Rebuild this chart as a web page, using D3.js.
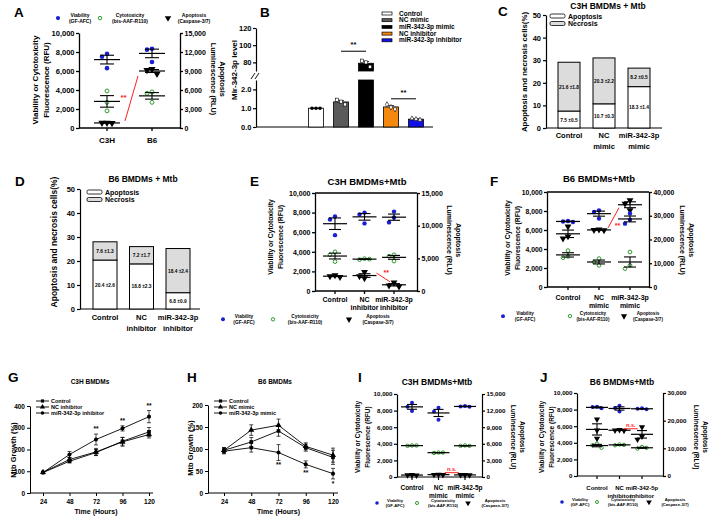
<!DOCTYPE html>
<html><head><meta charset="utf-8">
<script src="https://cdn.jsdelivr.net/npm/d3@7"></script>
<style>body{margin:0;background:#fff}svg{display:block}text{font-family:"Liberation Sans",Arial,sans-serif;font-weight:bold}</style>
</head><body><svg id="c" width="709" height="518"></svg>
<script>
// ================= DATA =================
// Panel A (viability/cytotoxicity in RFU, apoptosis in RLU)
const aCats=[["C3H"],["B6"]];
const aVia=[[7800,7500,6300],[8350,8250,6950]];
const aCyt=[[3900,2700,1800],[3800,3650,2700]];
const aApo=[[820,800,780],[9300,9150,8550]];
// Panel B
const bCats=["Control","NC mimic","miR-342-3p mimic","NC inhibitor","miR-342-3p inhibitor"];
const bPts=[[1,1,1],[1.45,1.35,1.2],[82,80,75],[1.2,1.05,0.95],[0.45,0.42,0.38]];
const bLowTicks=[0,1,2], bHighTicks=[80,100,120];
const bSig=[{a:1,b:2,v:93,t:"**"},{a:3,b:4,v:1.5,t:"**"}];
// Panel C
const cCats=[["Control"],["NC","mimic"],["miR-342-3p","mimic"]];
const cApo=[7.5,10.7,18.3], cApoSE=[0.5,0.3,1.4];
const cNec=[21.6,20.3,8.2], cNecSE=[1.8,2.2,0.5];
// Panel D
const dCats=[["Control"],["NC","inhibitor"],["miR-342-3p","inhibitor"]];
const dApo=[20.4,18.8,6.8], dApoSE=[2.6,2.3,0.9];
const dNec=[7.6,7.2,18.4], dNecSE=[1.3,1.7,2.4];
const pctTicks=[0,10,20,30,40,50];
// Panel E
const eCats=[["Control"],["NC","inhibitor"],["miR-342-3p","inhibitor"]];
const eVia=[[7600,7300,5700],[8000,7800,6900],[8100,7500,7000]];
const eCyt=[[4000,3700,3000],[3300,3200,3250],[3700,3550,3050]];
const eApo=[[2400,2250,2150],[2900,2250,1950],[1300,850,700]];
// Panel F
const fCats=[["Control"],["NC","mimic"],["miR-342-3p","mimic"]];
const fVia=[[6950,6900,6850],[8070,7890,7200],[7730,7090,6670]];
const fCyt=[[3830,3220,3090],[2990,2630,2280],[3680,2280,1940]];
const fApo=[[25500,21300,20400],[24200,24000,23900],[36500,35100,32300]];
// Panel G
const hours=[24,48,72,96,120];
const gCtrl=[94,146,186,238,281], gCtrlE=[4,8,14,18,20];
const gNC=[95,154,189,235,269], gNCE=[4,10,16,20,16];
const gInh=[94,177,246,297,351], gInhE=[4,14,25,12,28];
const gSig=["","","**","**","**"];
// Panel H
const hCtrl=[97,116,141,103,81], hCtrlE=[6,10,12,8,16];
const hNC=[97,143,154,106,86], hNCE=[6,12,14,8,16];
const hMim=[95,103,92,65,44], hMimE=[6,10,18,8,12];
const hSig=["","","**","**","*"];
// Panel I
const iCats=[["Control"],["NC","mimic"],["miR-342-5p","mimic"]];
const iVia=[[8950,8450,7950],[8350,7900,6900],[8550,8500,8450]];
const iCyt=[[3800,3750,3800],[2950,2900,2950],[3800,3750,3750]];
const iApo=[[400,350,300],[450,420,400],[400,380,350]];
// Panel J
const jCats=[["Control"],["NC","inhibitor"],["miR-342-5p","inhibitor"]];
const jVia=[[8350,8300,8150],[8460,8180,7770],[8150,8100,8050]];
const jCyt=[[3900,3700,3400],[3800,3700,3750],[3500,3300,3400]];
const jApo=[[20500,16500,13500],[16700,16500,16400],[17700,14300,13200]];

// ================= DRAWING =================
const svg=d3.select("#c");
const FF='"Liberation Sans",Arial,sans-serif';
const BLUE="#1a1fd6", GREEN="#2f9a2f", RED="#ff2020";
function T(g,x,y,s,fs,anchor,rot,fill){
  const t=g.append("text").attr("x",x).attr("y",y).attr("font-size",fs)
    .attr("text-anchor",anchor||"middle").attr("fill",fill||"#000").text(s);
  if(rot) t.attr("transform",`rotate(${rot},${x},${y})`);
  return t;
}
function sty(a,fs,sw){
  a.attr("font-size",fs).attr("font-family",FF).attr("font-weight","bold");
  a.selectAll("path,line").attr("stroke","#000").attr("stroke-width",sw||1.2);
  a.selectAll("text").attr("fill","#000");
}
function L(g,x1,y1,x2,y2,sw,col){
  return g.append("line").attr("x1",x1).attr("y1",y1).attr("x2",x2).attr("y2",y2)
    .attr("stroke",col||"#000").attr("stroke-width",sw||1);
}
function marker(g,k,x,y,s){
  if(k==="via") g.append("circle").attr("cx",x).attr("cy",y).attr("r",s).attr("fill",BLUE);
  else if(k==="cyt") g.append("circle").attr("cx",x).attr("cy",y).attr("r",s*0.85).attr("fill","#fff").attr("stroke",GREEN).attr("stroke-width",1);
  else g.append("path").attr("d",d3.symbol(d3.symbolTriangle,s*s*4.2)()).attr("transform",`translate(${x},${y}) rotate(180)`).attr("fill","#000");
}
// Letters
[["A",14,17],["B",260,17],["C",498,16],["D",15,186],["E",250,186],["F",490,186],["G",8,382],["H",187,382],["I",358,382],["J",540,382]]
 .forEach(d=>T(svg,d[1],d[2],d[0],13.5,"start"));

const LEG={via:["Viability","(GF-AFC)"],cyt:["Cytotoxicity","(bis-AAF-R110)"],apo:["Apoptosis","(Caspase-3/7)"]};

function dotPanel(o){
  const g=svg.append("g");
  const yL=d3.scaleLinear().domain([0,10000]).range([o.yb,o.yt]);
  const yR=d3.scaleLinear().domain([0,o.rMax]).range([o.yb,o.yt]);
  const x=d3.scalePoint().domain(d3.range(o.cats.length)).range([o.c0,o.c1]);
  const fmt=d3.format(",");
  const aL=g.append("g").attr("transform",`translate(${o.xl},0)`)
    .call(d3.axisLeft(yL).tickValues(d3.range(0,10001,o.lStep)).tickFormat(fmt).tickSize(3).tickSizeOuter(0).tickPadding(1.5));
  const aR=g.append("g").attr("transform",`translate(${o.xr},0)`)
    .call(d3.axisRight(yR).tickValues(d3.range(0,o.rMax+1,o.rStep)).tickFormat(fmt).tickSize(3).tickSizeOuter(0).tickPadding(1.5));
  sty(aL,o.tf,o.sw); sty(aR,o.rtf||o.tf,o.sw);
  L(g,o.xl,o.yb,o.xr,o.yb,o.sw);
  if(o.frame) L(g,o.xl,o.yt,o.xr,o.yt,o.sw);
  o.cats.forEach((c,i)=>{
    L(g,x(i),o.yb,x(i),o.yb+3,o.sw);
    c.forEach((s,j)=>T(g,x(i),o.cy+j*o.clh,s,o.cf));
  });
  const ser=[{k:"apo",d:o.apo,sc:yR},{k:"cyt",d:o.cyt,sc:yL},{k:"via",d:o.via,sc:yL}];
  const means={};
  ser.forEach(s=>{
    means[s.k]=[];
    s.d.forEach((pts,i)=>{
      const cx=x(i), placed=[];
      pts.forEach(v=>{
        const py=s.sc(v); let off=0;
        for(const oo of [0,-o.dd,o.dd,-2*o.dd,2*o.dd]){
          if(!placed.some(p=>Math.abs(p[0]-oo)<o.dd*0.9&&Math.abs(p[1]-py)<o.dd)){off=oo;break;}
        }
        placed.push([off,py]);
        marker(g,s.k,cx+off,py,o.ms);
      });
      const m=d3.mean(pts), se=d3.deviation(pts)/Math.sqrt(pts.length);
      means[s.k].push([cx,s.sc(m)]);
      L(g,cx-o.mw,s.sc(m),cx+o.mw,s.sc(m),1.2);
      L(g,cx,s.sc(m+se),cx,s.sc(m-se),1.1);
      L(g,cx-o.ew,s.sc(m+se),cx+o.ew,s.sc(m+se),1.1);
      L(g,cx-o.ew,s.sc(m-se),cx+o.ew,s.sc(m-se),1.1);
    });
  });
  (o.sig||[]).forEach(s=>{
    const A=means[s.k][s.a], B=means[s.k][s.b];
    if(s.type==="line"){
      const p1=[A[0]+s.d1[0],A[1]+s.d1[1]], p2=[B[0]+s.d2[0],B[1]+s.d2[1]];
      L(g,p1[0],p1[1],p2[0],p2[1],1,RED);
      T(g,(p1[0]+p2[0])/2+s.t[0],(p1[1]+p2[1])/2+s.t[1],s.txt,s.fs,"middle",0,RED);
    } else {
      const mx=(A[0]+B[0])/2, my=Math.min(A[1],B[1]);
      T(g,mx,my-s.t,s.txt,s.fs,"middle",0,RED);
      L(g,mx-s.hw,my-s.u,mx+s.hw,my-s.u,1,RED);
    }
  });
  if(o.title) T(g,o.title[0],o.title[1],o.title[2],o.title[3]);
  const lt=o.lt; T(g,lt.x1,lt.y,"Viability or Cytotoxicity",lt.fs,"middle",-90); T(g,lt.x2,lt.y,"Fluorescence (RFU)",lt.fs,"middle",-90);
  const rt=o.rt; T(g,rt.x1,rt.y,"Luminescence (RLU)",rt.fs,"middle",90); T(g,rt.x2,rt.y,"Apoptosis",rt.fs,"middle",90);
  const lg=o.leg;
  lg.items.forEach(it=>{
    marker(g,it.k,it.mx,lg.y+lg.lh*0.5-lg.fs*0.35,o.ms*0.9);
    T(g,it.tx,lg.y,LEG[it.k][0],lg.fs); T(g,it.tx,lg.y+lg.lh,LEG[it.k][1],lg.fs);
  });
}

// Panel A
dotPanel({xl:79,xr:180,yt:33,yb:128,rMax:15000,lStep:2000,rStep:3000,cats:aCats,c0:107,c1:152,
  via:aVia,cyt:aCyt,apo:aApo,tf:7.5,rtf:7,sw:1.3,cy:143,clh:9,cf:8,ms:2.3,dd:5,mw:13,ew:7,
  lt:{x1:38,x2:49,y:80,fs:8},rt:{x1:211,x2:220,y:79,fs:7.3},
  leg:{y:17,lh:5.7,fs:5,items:[{k:"via",mx:58,tx:80},{k:"cyt",mx:100,tx:130},{k:"apo",mx:168,tx:194}]},
  sig:[{type:"line",k:"apo",a:0,b:1,d1:[18,-2],d2:[-14,5],t:[-8,2],txt:"**",fs:8}]});
// Panel E
dotPanel({xl:315,xr:417,yt:193,yb:291,rMax:15000,lStep:2000,rStep:5000,cats:eCats,c0:335,c1:394,frame:true,
  via:eVia,cyt:eCyt,apo:eApo,tf:7,sw:1.3,cy:302,clh:8,cf:7,ms:2.2,dd:5,mw:12,ew:6,
  title:[367,185,"C3H BMDMs+Mtb",9.5],
  lt:{x1:273,x2:283,y:237,fs:6.8},rt:{x1:447,x2:456,y:240,fs:7},
  leg:{y:318,lh:6,fs:4.8,items:[{k:"via",mx:223,tx:244},{k:"cyt",mx:273,tx:305},{k:"apo",mx:349,tx:378}]},
  sig:[{type:"line",k:"apo",a:1,b:2,d1:[12,-2.5],d2:[-4,-3],t:[3,-2],txt:"**",fs:7}]});
// Panel F
dotPanel({xl:547,xr:649,yt:192,yb:287,rMax:40000,lStep:2000,rStep:10000,cats:fCats,c0:568,c1:630,frame:true,
  via:fVia,cyt:fCyt,apo:fApo,tf:6.8,sw:1.3,cy:300,clh:8,cf:7,ms:2.2,dd:5,mw:12,ew:6,
  title:[599,182,"B6 BMDMs+Mtb",9.5],
  lt:{x1:510,x2:520,y:238,fs:6.8},rt:{x1:680,x2:689,y:240,fs:7},
  leg:{y:315,lh:5.5,fs:4.6,items:[{k:"via",mx:503,tx:525},{k:"cyt",mx:570,tx:593},{k:"apo",mx:624,tx:648}]},
  sig:[{type:"line",k:"apo",a:1,b:2,d1:[9,-2],d2:[-11,3],t:[4,10],txt:"**",fs:7}]});
// Panel I
dotPanel({xl:397,xr:482,yt:394,yb:477,rMax:15000,lStep:2000,rStep:3000,cats:iCats,c0:412,c1:465,
  via:iVia,cyt:iCyt,apo:iApo,tf:6.2,sw:1.2,cy:490,clh:7.5,cf:6.5,ms:2,dd:4.5,mw:11,ew:5,
  title:[437,385,"C3H BMDMs+Mtb",8.5],
  lt:{x1:360,x2:370,y:437,fs:6.5},rt:{x1:511,x2:520,y:437,fs:6.5},
  leg:{y:502,lh:5,fs:4.2,items:[{k:"via",mx:377,tx:395},{k:"cyt",mx:417,tx:443},{k:"apo",mx:468,tx:495}]},
  sig:[{type:"ns",k:"apo",a:1,b:2,t:4,u:2,hw:7,txt:"n.s.",fs:5.5}]});
// Panel J
dotPanel({xl:577,xr:663,yt:393,yb:476,rMax:30000,lStep:2000,rStep:10000,cats:jCats,c0:597,c1:642,
  via:jVia,cyt:jCyt,apo:jApo,tf:6.2,sw:1.2,cy:490,clh:7.5,cf:6,ms:2,dd:4.5,mw:11,ew:5,
  title:[622,385,"B6 BMDMs+Mtb",8.5],
  lt:{x1:544,x2:554,y:437,fs:6.5},rt:{x1:694,x2:703,y:437,fs:6.5},
  leg:{y:501,lh:5,fs:4.2,items:[{k:"via",mx:562,tx:580},{k:"cyt",mx:597,tx:623},{k:"apo",mx:649,tx:675}]},
  sig:[{type:"ns",k:"apo",a:1,b:2,t:3.5,u:1.5,hw:7,txt:"n.s.",fs:5.5}]});

// Panel B
(function(){
  const g=svg.append("g");
  const yLo=d3.scaleLinear().domain([0,2.5]).range([127,80]);
  const yHi=d3.scaleLinear().domain([70,120]).range([71,28]);
  const yB=v=>v<=2.5?yLo(v):yHi(v);
  const x=d3.scalePoint().domain(d3.range(bCats.length)).range([316,416]);
  const bw=15;
  const fills=["#ffffff","#5a5a5a","#000000","#f5890f","#1212e8"];
  const a1=g.append("g").attr("transform","translate(256,0)").call(d3.axisLeft(yLo).tickValues(bLowTicks).tickSize(3).tickSizeOuter(0).tickPadding(1.5));
  const a2=g.append("g").attr("transform","translate(256,0)").call(d3.axisLeft(yHi).tickValues(bHighTicks).tickSize(3).tickSizeOuter(0).tickPadding(1.5));
  sty(a1,7.5,1.2); sty(a2,7.5,1.2);
  L(g,251,79,255,73,0.9); L(g,255,79,259,73,0.9);
  L(g,256,127,433,127,1.2);
  bPts.forEach((pts,i)=>{
    const m=d3.mean(pts), se=d3.deviation(pts)/Math.sqrt(pts.length), cx=x(i);
    if(m<=2.5){
      g.append("rect").attr("x",cx-bw/2).attr("y",yLo(m)).attr("width",bw).attr("height",yLo(0)-yLo(m)).attr("fill",fills[i]).attr("stroke","#000").attr("stroke-width",0.8);
    } else {
      g.append("rect").attr("x",cx-bw/2).attr("y",yLo(2.5)).attr("width",bw).attr("height",yLo(0)-yLo(2.5)).attr("fill",fills[i]).attr("stroke","#000").attr("stroke-width",0.8);
      g.append("rect").attr("x",cx-bw/2).attr("y",yHi(m)).attr("width",bw).attr("height",yHi(70)-yHi(m)).attr("fill",fills[i]).attr("stroke","#000").attr("stroke-width",0.8);
    }
    L(g,cx,yB(m+se),cx,yB(m),0.8); L(g,cx-3,yB(m+se),cx+3,yB(m+se),0.8);
    pts.forEach((v,j)=>{
      const px=cx+(j-1)*4, py=yB(v);
      if(i===0) g.append("circle").attr("cx",px).attr("cy",py).attr("r",1.8).attr("fill","#000");
      else if(i===3) g.append("path").attr("d",d3.symbol(d3.symbolDiamond,9)()).attr("transform",`translate(${px},${py})`).attr("fill","#fff").attr("stroke","#000").attr("stroke-width",0.6);
      else if(i===4) g.append("path").attr("d",d3.symbol(d3.symbolTriangle,9)()).attr("transform",`translate(${px},${py})`).attr("fill","#fff").attr("stroke","#000").attr("stroke-width",0.6);
      else g.append("rect").attr("x",px-1.6).attr("y",py-1.6).attr("width",3.2).attr("height",3.2).attr("fill","#fff").attr("stroke","#000").attr("stroke-width",0.6);
    });
  });
  bSig.forEach(s=>{
    const y=yB(s.v); L(g,x(s.a),y,x(s.b),y,1);
    T(g,(x(s.a)+x(s.b))/2,y-4,s.t,7.5);
  });
  T(g,237,70,"Mir-342-3p level",8,"middle",-90);
  bCats.forEach((c,i)=>{
    const y=15+i*6.7;
    g.append("rect").attr("x",382).attr("y",y-3).attr("width",10).attr("height",3).attr("fill",fills[i]).attr("stroke","#000").attr("stroke-width",0.7);
    T(g,399,y+0.5,c,6.5,"start");
  });
})();

// Panels C & D
function stackPanel(o){
  const g=svg.append("g");
  const y=d3.scaleLinear().domain([0,50]).range([o.yb,o.yt]);
  const x=d3.scalePoint().domain(d3.range(o.cats.length)).range([o.c0,o.c1]);
  const a=g.append("g").attr("transform",`translate(${o.xl},0)`).call(d3.axisLeft(y).tickValues(pctTicks).tickSize(3).tickSizeOuter(0).tickPadding(2));
  sty(a,7.5,1.2);
  L(g,o.xl,o.yb,o.xr,o.yb,1.2);
  o.cats.forEach((c,i)=>{
    const cx=x(i), ap=o.apo[i], ne=o.nec[i];
    g.append("rect").attr("x",cx-o.bw/2).attr("y",y(ap)).attr("width",o.bw).attr("height",y(0)-y(ap)).attr("fill","#fff").attr("stroke","#000").attr("stroke-width",1);
    g.append("rect").attr("x",cx-o.bw/2).attr("y",y(ap+ne)).attr("width",o.bw).attr("height",y(ap)-y(ap+ne)).attr("fill","#dcdcdc").attr("stroke","#000").attr("stroke-width",1);
    T(g,cx,(y(0)+y(ap))/2+2,ap.toFixed(1)+" ±"+o.apoSE[i].toFixed(1),4.8);
    T(g,cx,(y(ap)+y(ap+ne))/2+2,ne.toFixed(1)+" ±"+o.necSE[i].toFixed(1),4.8);
    c.forEach((s,j)=>T(g,cx,o.cy+j*o.clh,s,7.5));
  });
  T(g,o.title[0],o.title[1],o.title[2],8.5);
  T(g,o.yt2[0],o.yt2[1],"Apoptosis and necrosis cells(%)",o.yt2[2],"middle",-90);
  [["Apoptosis","#fff"],["Necrosis","#dcdcdc"]].forEach((d,i)=>{
    const ly=o.leg[1]+i*7.5;
    g.append("rect").attr("x",o.leg[0]).attr("y",ly-2).attr("width",15).attr("height",4).attr("rx",1.5).attr("fill",d[1]).attr("stroke","#000").attr("stroke-width",0.8);
    T(g,o.leg[0]+18,ly+2.6,d[0],7,"start");
  });
}
stackPanel({xl:546,xr:662,yt:15,yb:128,c0:569,c1:639,bw:22,cats:cCats,apo:cApo,apoSE:cApoSE,nec:cNec,necSE:cNecSE,
  cy:138,clh:10.5,title:[608,8.5,"C3H BMDMs + Mtb"],yt2:[527,72,7.8],leg:[550,16]});
stackPanel({xl:80,xr:200,yt:189,yb:309,c0:105,c1:178,bw:24,cats:dCats,apo:dApo,apoSE:dApoSE,nec:dNec,necSE:dNecSE,
  cy:320,clh:11,title:[143,182,"B6 BMDMs + Mtb"],yt2:[57,242,8.5],leg:[87,192]});

// Panels G & H
function linePanel(o){
  const g=svg.append("g");
  const x=d3.scaleLinear().domain([24,120]).range([o.x0,o.x1]);
  const y=d3.scaleLinear().domain([0,o.yMax]).range([o.yb,o.yt]);
  const ay=g.append("g").attr("transform",`translate(${o.xl},0)`).call(d3.axisLeft(y).tickValues(o.yTicks).tickSize(3).tickSizeOuter(0).tickPadding(2));
  sty(ay,6.5,1);
  const ax=g.append("g").attr("transform",`translate(0,${o.yb})`).call(d3.axisBottom(x).tickValues(hours).tickSize(3).tickSizeOuter(0).tickPadding(3));
  sty(ax,6.5,1); ax.select(".domain").remove();
  L(g,o.xl,o.yb,o.xr,o.yb,1);
  const line=d3.line().x((d,i)=>x(hours[i])).y(d=>y(d));
  const syms=[d3.symbolSquare,d3.symbolTriangle,d3.symbolCircle];
  o.ser.forEach((s,k)=>{
    g.append("path").attr("d",line(s.v)).attr("fill","none").attr("stroke","#000").attr("stroke-width",0.9);
    s.v.forEach((v,i)=>{
      const cx=x(hours[i]);
      L(g,cx,y(v+s.e[i]),cx,y(v-s.e[i]),0.7);
      L(g,cx-2,y(v+s.e[i]),cx+2,y(v+s.e[i]),0.7);
      L(g,cx-2,y(v-s.e[i]),cx+2,y(v-s.e[i]),0.7);
      g.append("path").attr("d",d3.symbol(syms[k],k===1?16:13)()).attr("transform",`translate(${cx},${y(v)})`).attr("fill","#000");
    });
    const ly=o.leg[1]+k*6;
    L(g,o.leg[0],ly,o.leg[0]+13,ly,0.9);
    g.append("path").attr("d",d3.symbol(syms[k],k===1?12:10)()).attr("transform",`translate(${o.leg[0]+6.5},${ly})`).attr("fill","#000");
    T(g,o.leg[0]+15,ly+2,s.n,5.5,"start");
  });
  const last=o.ser[2];
  o.sig.forEach((s,i)=>{ if(!s) return;
    const v=last.v[i], e=last.e[i];
    const yy=o.up? y(v+e)-3 : y(v-e)+7;
    T(g,x(hours[i]),yy,s,6.5);
  });
  T(g,o.title[0],o.title[1],o.title[2],6.5);
  T(g,(o.x0+o.x1)/2,o.yb+21,"Time (Hours)",7);
  T(g,o.ytx,o.yty,"Mtb Growth (%)",7.5,"middle",-90);
}
linePanel({xl:30,xr:153,x0:43,x1:149,yb:493,yt:406,yMax:400,yTicks:[0,100,200,300,400],up:true,
  ser:[{n:"Control",v:gCtrl,e:gCtrlE},{n:"NC inhibitor",v:gNC,e:gNCE},{n:"miR-342-3p inhibitor",v:gInh,e:gInhE}],
  sig:gSig,leg:[36,401],title:[90,384,"C3H BMDMs"],ytx:16,yty:450});
linePanel({xl:208,xr:338,x0:224,x1:333,yb:493,yt:405,yMax:200,yTicks:[0,50,100,150,200],up:false,
  ser:[{n:"Control",v:hCtrl,e:hCtrlE},{n:"NC mimic",v:hNC,e:hNCE},{n:"miR-342-3p mimic",v:hMim,e:hMimE}],
  sig:hSig,leg:[214,401],title:[275,384,"B6 BMDMs"],ytx:193,yty:448});
</script></body></html>
